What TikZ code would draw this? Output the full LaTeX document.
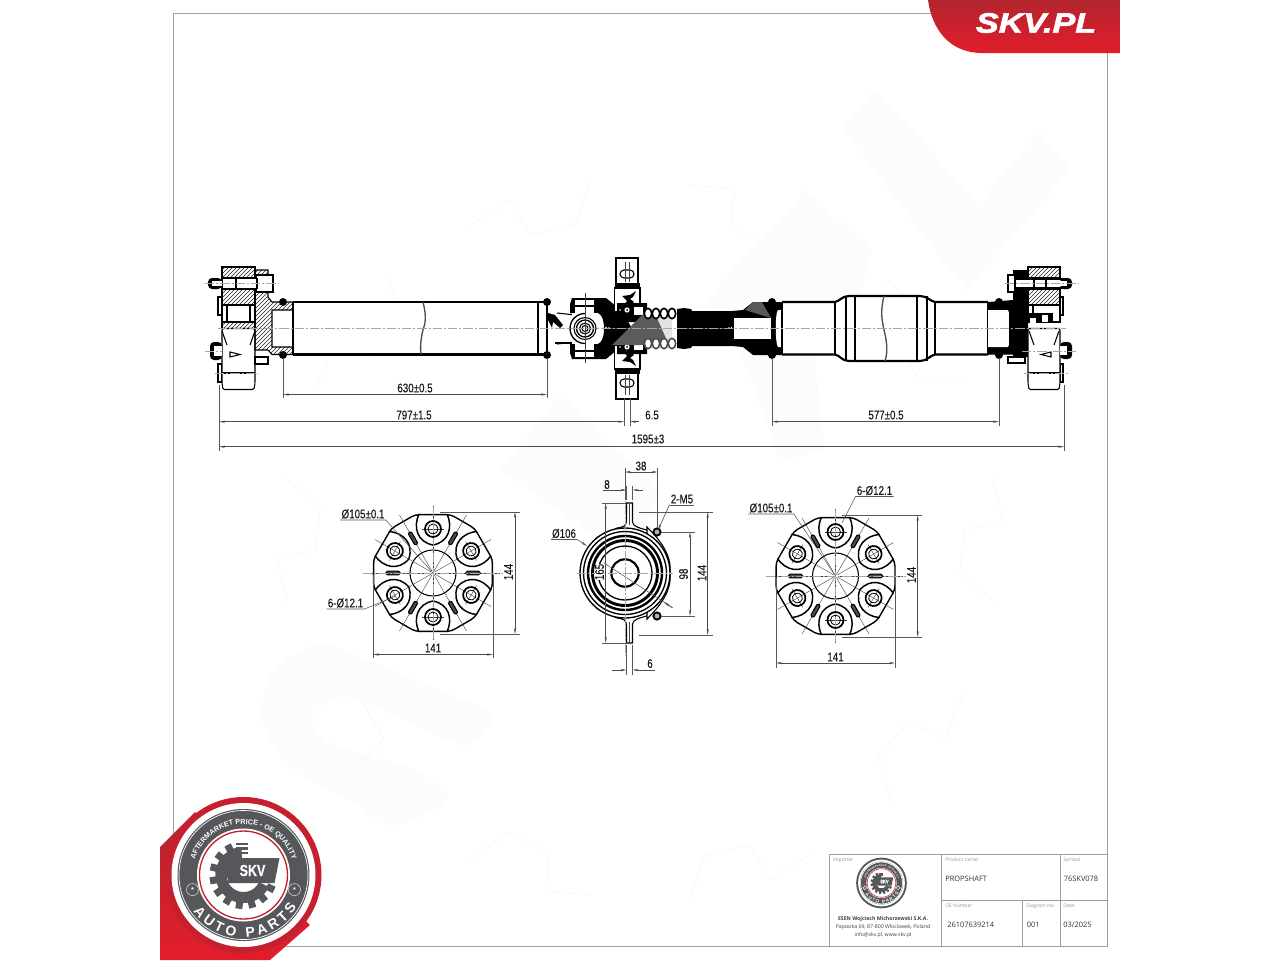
\documentclass[tikz,border=0pt]{standalone}
\usepackage{fontspec}
\usepackage{tikz}
\usetikzlibrary{arrows.meta, patterns, decorations.text}
\setmainfont{Liberation Sans}
\newfontfamily\dimfont[FakeStretch=0.78, FakeBold=0.25]{Liberation Sans}
\newfontfamily\tabfont{Open Sans}
\newfontfamily\skvfont[FakeStretch=1.22, FakeBold=2.2]{Liberation Sans}
\definecolor{skvred}{HTML}{C6202E}
\definecolor{skvredhi}{HTML}{E31D2B}
\definecolor{skvreddk}{HTML}{B2262F}
\definecolor{skvgray}{HTML}{55575A}
\definecolor{wline}{gray}{0.955}
\tikzset{
    frameline/.style={draw=gray!75, line width=0.5pt},
    outline/.style={draw=black, line width=0.8pt},
    heavy/.style={draw=black, line width=1.6pt},
    hairline/.style={draw=black!75, line width=0.3pt},
    cline/.style={draw=gray!70, line width=0.35pt, dash pattern=on 7pt off 1.5pt on 1.5pt off 1.5pt},
    dimline/.style={draw=black!70, line width=0.45pt, {Stealth[length=4.5pt,width=1.7pt]}-{Stealth[length=4.5pt,width=1.7pt]}},
    outarrow/.style={draw=black!70, line width=0.45pt, -{Stealth[length=4.5pt,width=1.7pt]}},
    extline/.style={draw=black!65, line width=0.4pt},
    dimtext/.style={font=\dimfont\fontsize{9.4}{10}\selectfont, text=black!90, inner sep=0.8pt},
    smallcap/.style={font=\tabfont\fontsize{3.7}{4}\selectfont, text=gray!85, anchor=west, inner sep=0pt},
    cellvalue/.style={font=\tabfont\fontsize{5.6}{6}\selectfont, text=black!80, anchor=west, inner sep=0pt},
    importer/.style={font=\tabfont\fontsize{3.9}{5}\selectfont, text=black!75, inner sep=0pt},
    hatched/.style={outline, pattern=north east lines, pattern color=black!85},
    watermark/.style={pattern=crosshatch dots, pattern color=gray!22},
    coupling/.pic={
        \draw[outline, line width=1.05pt, fill=white, rounded corners=3pt]
            (13:61) -- (47:61) -- (73:61) -- (107:61) -- (133:61) -- (167:61) -- (193:61)
            -- (227:61) -- (253:61) -- (287:61) -- (313:61) -- (347:61) -- cycle;
        \foreach \a in {30,90,...,330} {
            \begin{scope}[rotate=\a]
                \draw[outline, line width=1.1pt] (59,14) .. controls (46,20) and (31,16) .. (28,0)
                    .. controls (31,-16) and (46,-20) .. (59,-14);
                \draw[hairline] (24,0) -- (67,0);
                \draw[hairline] (44,-11) -- (44,11);
                \draw[outline, line width=1.3pt] (44,0) circle (8);
                \draw[outline, line width=0.6pt] (44,0) circle (5);
            \end{scope}
        }
        \foreach \a in {0,60,...,300} {
            \begin{scope}[rotate=\a]
                \draw[hairline] (23,0) -- (67,0);
                \draw[outline, fill=black!70, rounded corners=1pt] (33,-1.8) rectangle (47,1.8);
            \end{scope}
        }
        \draw[outline, fill=white] (0,0) circle (23);
        \foreach \a in {0,30,...,330} {
            \draw[hairline] (\a:2) -- (\a:23);
        }
        \draw[cline] (-70,0) -- (70,0);
        \draw[cline] (0,-66) -- (0,66);
    }
}
\newcommand{\dimH}[4]{
    \coordinate (#1a) at (#2,#4);
    \coordinate (#1b) at (#3,#4);
    \draw[dimline] (#1a) -- (#1b);
}
\newcommand{\dimV}[4]{
    \coordinate (#1a) at (#4,#2);
    \coordinate (#1b) at (#4,#3);
    \draw[dimline] (#1a) -- (#1b);
}
\newcommand{\dimOut}[6]{
    \coordinate (#1a) at (#2,#6);
    \coordinate (#1b) at (#3,#6);
    \coordinate (#1c) at (#4,#6);
    \coordinate (#1d) at (#5,#6);
    \draw[outarrow] (#1a) -- (#1b);
    \draw[outarrow] (#1d) -- (#1c);
}
\newcommand{\ringfontbig}{\bfseries\fontsize{5.4}{6}\selectfont}
\newcommand{\ringfontsmall}{\bfseries\fontsize{1.8}{2}\selectfont}
\newcommand{\partsfontbig}{\bfseries\fontsize{10.5}{11}\selectfont}
\newcommand{\partsfontsmall}{\bfseries\fontsize{3.4}{4}\selectfont}
\newcommand{\skvbadge}[9]{
    \begin{scope}[shift={(#2,#3)}, x=#4*0.75pt, y=#4*0.75pt]
        \fill[#5] (0,0) circle (78);
        \fill[white] (0,0) circle (72);
        \fill[skvgray] (0,0) circle (66);
        \draw[white, line width=0.5pt] (0,0) circle (64.5);
        \fill[white] (0,0) circle (46.5);
        \draw[skvred, line width=#9] (0,0) circle (44);
        \path[decorate, decoration={text along path, text color=white, text align=center,
            text={|#6|AFTERMARKET PRICE - OE QUALITY}}] (176:51) arc (176:4:51);
        \path[decorate, decoration={text along path, text color=white, text align={fit to path},
            text={|#7|AUTO PARTS}}] (216:62) arc (216:329:62);
        \node[draw=white, circle, line width=0.3pt, minimum size=#4*9pt, inner sep=0pt, text=white, font=#6] (#1starl) at (196:53) {*};
        \node[draw=white, circle, line width=0.3pt, minimum size=#4*9pt, inner sep=0pt, text=white, font=#6] (#1starr) at (-16:53) {*};
        \fill[skvgray] (95:28) arc (95:335:28) -- (335:17) arc (335:95:17) -- cycle;
        \fill[skvgray] (0,0) -- (95:28) arc (95:190:28) -- cycle;
        \foreach \t in {118,142,...,334} {
            \fill[skvgray, rotate=\t] (26,-3.5) rectangle (34,3.5);
        }
        \foreach \y in {22,26.5,31} {
            \fill[skvgray] (-8,\y-1.3) rectangle (4,\y+1.3);
        }
        \fill[skvgray] (-16,17) -- (36,17) -- (31,-8) -- (-16,-8) -- cycle;
        \node[text=white, font=\dimfont\bfseries#8, inner sep=0pt] (#1skv) at (9,4.5) {SKV};
    \end{scope}
}
\newcommand{\bearinghalf}{
    \draw[outline, fill=white] (616,258) rectangle (638,285);
    \draw[outline, fill=white, rounded corners=3pt] (620,270) rectangle (634,278);
    \draw[hairline] (625,262) -- (625,282);
    \draw[hairline] (629,262) -- (629,282);
    \fill[black] (615,283) rectangle (640,290);
    \draw[outline, fill=white] (614.5,288) rectangle (640,312);
    \fill[black] (622,296) -- (630,295) -- (636,291) -- (633,297) -- (630,299) -- (634,302) -- (628,306) -- (623,306) -- (627,301) -- cycle;
    \fill[black] (617,303) -- (647,303) -- (647,313) -- (640,322) -- (617,322) -- cycle;
    \fill[white] (634,307) rectangle (643,315);
    \fill[white] (627,310) circle (2.6);
    \fill[black] (627,310) circle (1);
    \fill[white] (620,310) circle (0.8);
}
\newcommand{\yokehalf}{
    \fill[black] (570,298) -- (606,298) -- (622,311) -- (632,328.5) -- (604,328.5)
        .. controls (604,320) and (602,315) .. (598,313) -- (570,313) -- (570,304) -- (572,298) -- cycle;
    \fill[white] (575,300) rectangle (594,313);
    \draw[outline] (575,306) -- (594,306);
    \draw[outline] (557,313) -- (575,315);
}
\newcommand{\shafthalf}{
    \fill[white] (643,316) rectangle (678,329);
    \fill[black] (677,309) -- (684,308) -- (691,309) -- (692,311) -- (732,311) -- (743,310) -- (753,302) -- (782,302) -- (782,328.5) -- (677,328.5) -- cycle;
}
\newcommand{\bellowsloops}[1]{
    \foreach \x in {648,656,664,672} {
        \draw[line width=1.2pt, draw=#1, fill=white] (\x,313.5) ellipse (3.7 and 5.2);
    }
}
\begin{document}
\begin{tikzpicture}[x=0.75pt, y=-0.75pt]
    \useasboundingbox (0,0) rectangle (1280,960);
    % watermark
    \fill[watermark] (841,127) -- (876,88) -- (978,205) -- (1039,131) -- (1072,168) -- (966,290) -- cycle;
    \fill[watermark] (706,300) -- (806,190) -- (872,250) -- (850,330) -- (815,360) -- (825,450) -- (780,460) -- (740,350) -- cycle;
    \fill[watermark] (500,470) -- (560,395) -- (660,490) -- (630,560) -- cycle;
    \fill[watermark, rounded corners=12pt] (320,640) -- (500,715) -- (470,750) -- (340,690) -- (305,720) -- (330,745) -- (420,770) -- (455,800) -- (390,830) -- (350,800) -- (290,770) -- (258,720) -- (270,670) -- cycle;
    \foreach \a in {0,36,...,324} {
        \draw[wline, line width=0.4pt, rotate around={\a:(640,540)}] (590,180) -- (575,225) -- (530,235) -- (510,200) -- (470,225);
    }
    % frame and title block
    \draw[frameline] (173,13) rectangle (1107,946);
    \draw[frameline] (829,854) rectangle (1107,946);
    \draw[frameline] (941.5,854) -- (941.5,946);
    \draw[frameline] (1060,854) -- (1060,946);
    \draw[frameline] (941.5,900) -- (1107,900);
    \draw[frameline] (1022.5,900) -- (1022.5,946);
    % left flange
    \draw[outline, fill=white] (218,297) rectangle (222,315);
    \draw[outline, fill=white] (218,364) rectangle (222,382);
    \draw[outline, fill=white] (222,305) rectangle (255,322);
    \draw[outline] (227,305) -- (227,322);
    \draw[outline] (250,305) -- (250,322);
    \draw[hatched] (222,322) rectangle (255,328.5);
    \draw[outline, fill=white, rounded corners=1pt] (222,328.5) -- (255,328.5) -- (255,383) -- (254,389.5) -- (223,389.5) -- (222,383) -- cycle;
    \draw[outline] (222,373) -- (255,373);
    \draw[outline] (222,331) -- (227,345);
    \draw[outline] (255,331) -- (250,345);
    \draw[outline, fill=white] (230,352) -- (240,354.5) -- (230,357) -- cycle;
    \draw[hatched] (222,267) rectangle (255,278);
    \draw[hatched] (222,289) rectangle (255,305);
    \draw[hatched] (255,270) -- (268,270) -- (268,297) -- (272,302) -- (293,302) -- (293,310) -- (272,310) -- (272,347) -- (293,347) -- (293,354.5) -- (272,354.5) -- (268,350) -- (255,350) -- cycle;
    \draw[outline, fill=white] (255,357) rectangle (268,364);
    \draw[outline, fill=white] (256,275) rectangle (273,292);
    \draw[outline, fill=white] (222,278.5) rectangle (257,288.5);
    \draw[outline] (236,278.5) -- (236,288.5);
    \fill[black, rounded corners=3pt] (208,278) rectangle (222,289);
    \fill[white] (212,281) rectangle (222,286);
    \fill[black, rounded corners=3pt] (210,342) rectangle (222,360);
    \fill[white] (214,346) rectangle (222,356);
    \fill[black] (283,302) circle (4);
    \fill[black] (283,355) circle (4);
    % left tube
    \fill[white] (293,302) rectangle (547,354.5);
    \draw[heavy] (293,302) -- (547,302);
    \draw[heavy] (293,354.5) -- (547,354.5);
    \draw[outline] (293,302) -- (293,354.5);
    \draw[outline] (538,302) -- (538,354.5);
    \draw[heavy] (547,302) -- (547,354.5);
    \draw[outline, line width=1pt, draw=black!70] (423,302) .. controls (427,318) and (425,324) .. (423,330) .. controls (421,338) and (420,346) .. (421,354.5);
    \fill[black] (547,302) circle (4);
    \fill[black] (547,355) circle (4);
    \fill[black] (548,313) -- (555,315) -- (563,325) -- (560,328) -- (553,322) -- (552,328) -- (548,320) -- cycle;
    % universal joint
    \draw[outline] (555,343) -- (575,343);
    \yokehalf
    \begin{scope}[shift={(0,657)}, yscale=-1]
        \yokehalf
    \end{scope}
    \fill[white] (572,313) rectangle (598,344);
    \draw[outline, fill=white] (585,328.5) circle (11);
    \draw[outline, line width=1pt] (585,328.5) circle (8.5);
    \draw[outline] (585,328.5) circle (5.5);
    \draw[outline, fill=white] (585,328.5) circle (3);
    \draw[outline, line width=1pt] (585,313.5) arc (-90:-270:15);
    \fill[white] (606,327.5) circle (0.8);
    \fill[white] (609,327.5) circle (0.7);
    \draw[hairline] (585,293) -- (585,363);
    % bellows and centre bearing
    \shafthalf
    \bearinghalf
    \begin{scope}[shift={(0,657)}, yscale=-1]
        \shafthalf
        \bearinghalf
    \end{scope}
    \fill[white] (734,318) rectangle (771,339);
    \fill[white] (782,310) -- (778,310) .. controls (775,312) and (775,344) .. (778,347) -- (782,347) -- cycle;
    \fill[white] (729,327.5) circle (0.7);
    \fill[white] (731.5,327.5) circle (0.7);
    \fill[gray!22] (642,318) -- (672,318) -- (672,339) -- (642,339) -- cycle;
    \fill[gray!72!black] (612,345) -- (645,312) -- (657,318) -- (668,343) -- (640,345) -- cycle;
    \bellowsloops{black}
    \begin{scope}[shift={(0,657)}, yscale=-1]
        \bellowsloops{gray!60!black}
    \end{scope}
    \fill[gray!70!black] (753,302) -- (762,302) -- (771,318) -- (745,310) -- cycle;
    \fill[black] (772,302) circle (4);
    \fill[black] (772,355) circle (4);
    % right tube
    \fill[white] (782,302) -- (835,302) -- (847,296) -- (922,296) -- (935,302) -- (988,302) -- (988,354.5) -- (935,354.5) -- (922,361) -- (847,361) -- (835,354.5) -- (782,354.5) -- cycle;
    \draw[heavy] (782,302) -- (835,302) .. controls (840,301) and (842,296) .. (849,296) -- (920,296) .. controls (927,296) and (930,301) .. (935,302) -- (988,302);
    \draw[heavy] (782,354.5) -- (835,354.5) .. controls (840,355.5) and (842,361) .. (849,361) -- (920,361) .. controls (927,361) and (930,355.5) .. (935,354.5) -- (988,354.5);
    \foreach \x in {782,835,935,988} {
        \draw[outline] (\x,302) -- (\x,354.5);
    }
    \foreach \x in {846,855,917,927} {
        \draw[outline] (\x,296) -- (\x,361);
    }
    \draw[outline, line width=1pt, draw=black!70] (884,296) .. controls (880,312) and (882,320) .. (884,330) .. controls (887,342) and (888,352) .. (885,361);
    % right flange
    \fill[black] (988,302) -- (1013,300) -- (1013,270) -- (1028,270) -- (1028,357) -- (1013,357) -- (1013,354.5) -- (988,354.5) -- cycle;
    \fill[white] (988,310) -- (1008,310) .. controls (1012,318) and (1012,340) .. (1008,347) -- (988,347) -- cycle;
    \draw[outline] (1010,312) -- (1010,345);
    \fill[black] (999,302) circle (4);
    \fill[black] (999,355) circle (4);
    \draw[outline, fill=white] (1008,357) rectangle (1025,363);
    \draw[outline, fill=white] (1060,297) rectangle (1063,315);
    \draw[outline, fill=white] (1060,364) rectangle (1063,382);
    \draw[outline, fill=white] (1028,305) rectangle (1060,322);
    \draw[outline] (1033,305) -- (1033,322);
    \fill[black] (1029,313) rectangle (1053,322);
    \fill[white] (1030,318) rectangle (1036,328);
    \fill[white] (1042,315) rectangle (1048,322);
    \draw[outline, fill=white, rounded corners=1pt] (1028,328.5) -- (1060,328.5) -- (1060,383) -- (1059,389.5) -- (1029,389.5) -- (1028,383) -- cycle;
    \draw[outline] (1028,373) -- (1060,373);
    \draw[outline] (1029,331) -- (1034,345);
    \draw[outline] (1059,331) -- (1054,345);
    \draw[outline, fill=white] (1051,352) -- (1041,354.5) -- (1051,357) -- cycle;
    \draw[hatched] (1028,267) rectangle (1060,278);
    \draw[hatched] (1028,289) rectangle (1060,305);
    \draw[outline, fill=white] (1008,275) rectangle (1015,292);
    \draw[outline, fill=white] (1015,279) rectangle (1062,288);
    \draw[outline] (1034,279) -- (1034,288);
    \draw[outline] (1046,279) -- (1046,288);
    \fill[black, rounded corners=3pt] (1060,278) rectangle (1072,289);
    \fill[white] (1060,281) rectangle (1067,286);
    \fill[black, rounded corners=3pt] (1060,342) rectangle (1072,359);
    \fill[white] (1060,346) rectangle (1067,355);
    % centre lines
    \draw[cline] (218,328.5) -- (1066,328.5);
    \draw[cline] (205,283.5) -- (279,283.5);
    \draw[cline] (205,351) -- (222,351);
    \draw[cline] (215,373) -- (258,373);
    \draw[cline] (1005,283.5) -- (1078,283.5);
    \draw[cline] (1022,351) -- (1076,351);
    \draw[cline] (1024,373) -- (1068,373);
    % main dimensions
    \draw[extline] (283,358) -- (283,398);
    \draw[extline] (547,358) -- (547,398);
    \draw[extline] (219,385) -- (219,451);
    \draw[extline] (1064,385) -- (1064,451);
    \draw[extline] (624,398) -- (624,426);
    \draw[extline] (630,398) -- (630,426);
    \draw[extline] (772,358) -- (772,426);
    \draw[extline] (999,358) -- (999,426);
    \dimH{dShaft}{283}{547}{394.5}
    \coordinate (dHalfa) at (219,421.7);
    \coordinate (dHalfb) at (624,421.7);
    \draw[dimline] (dHalfa) -- (dHalfb);
    \coordinate (dLugR) at (630,421.7);
    \coordinate (dLugE) at (639,421.7);
    \draw[outarrow] (dLugE) -- (dLugR);
    \dimH{dFront}{772}{999}{421.7}
    \dimH{dTotal}{219}{1064}{446.7}
    \node[dimtext] (tShaft) at (415,388) {630±0.5};
    \node[dimtext] (tHalf) at (414,415) {797±1.5};
    \node[dimtext] (tLug) at (652,415) {6.5};
    \node[dimtext] (tFront) at (886,415) {577±0.5};
    \node[dimtext] (tTotal) at (648,439) {1595±3};
    % couplings
    \pic (cplL) at (433,573) {coupling};
    \pic (cplR) at (835.5,576) {coupling};
    \draw[extline] (440,512) -- (520,512);
    \draw[extline] (440,634) -- (520,634);
    \draw[extline] (373,575) -- (373,658);
    \draw[extline] (493,575) -- (493,658);
    \dimV{dLh}{512}{634}{515}
    \dimH{dLw}{373}{493}{654.5}
    \node[dimtext, rotate=90] (tLh) at (508.5,572) {144};
    \node[dimtext] (tLw) at (433,648) {141};
    \node[dimtext] (tLd) at (363,514) {Ø105±0.1};
    \coordinate (cLd) at (433,573);
    \draw[extline] (tLd.south west) -- (tLd.south east) -- (cLd);
    \node[dimtext] (tLb) at (345.5,603) {6-Ø12.1};
    \coordinate (cLb) at (396,596);
    \draw[extline] (tLb.south west) -- (tLb.south east) -- (cLb);
    \draw[extline] (842,515) -- (922,515);
    \draw[extline] (842,637) -- (922,637);
    \draw[extline] (776,578) -- (776,668);
    \draw[extline] (895,578) -- (895,668);
    \dimV{dRh}{515}{637}{917.7}
    \dimH{dRw}{776}{895}{663}
    \node[dimtext, rotate=90] (tRh) at (911.5,575) {144};
    \node[dimtext] (tRw) at (835.5,657) {141};
    \node[dimtext] (tRd) at (771,508) {Ø105±0.1};
    \coordinate (cRd) at (835.5,576);
    \draw[extline] (tRd.south west) -- (tRd.south east) -- (cRd);
    \node[dimtext] (tRb) at (874.5,490.5) {6-Ø12.1};
    \coordinate (cRb) at (842,523);
    \draw[extline] (tRb.south east) -- (tRb.south west) -- (cRb);
    % support bearing
    \draw[outline, fill=white] (626.5,503) -- (632.5,503) -- (632.5,522) .. controls (633,527) and (640,528) .. (650,531) -- (652,537) -- (598,537) -- (617,528) .. controls (624,527) and (626.5,526) .. (626.5,520) -- cycle;
    \draw[outline, fill=white] (626.5,643) -- (632.5,643) -- (632.5,624) .. controls (633,619) and (640,618) .. (650,615) -- (652,609) -- (598,609) -- (617,618) .. controls (624,619) and (626.5,620) .. (626.5,626) -- cycle;
    \draw[outline, fill=white] (647,527) .. controls (660,540) and (672,555) .. (670,573) .. controls (672,591) and (660,606) .. (647,619) -- cycle;
    \draw[outline, line width=1pt, fill=white] (625,573) circle (45);
    \draw[outline, line width=1pt] (625,573) circle (41.5);
    \draw[outline, line width=1.8pt] (625,573) circle (37);
    \draw[outline, line width=2.2pt] (625,573) circle (32.5);
    \draw[outline, line width=1pt] (625,573) circle (27);
    \draw[outline, line width=1.6pt, fill=white] (625,573) circle (13.7);
    \draw[outline, line width=1.4pt, fill=gray!60] (657,532) circle (3.6);
    \draw[outline, line width=1.4pt, fill=gray!60] (657,616) circle (3.6);
    \draw[cline] (577,573) -- (673,573);
    \draw[cline] (625,490) -- (625,656);
    \draw[hairline] (629.5,503) -- (629.5,525);
    \draw[hairline] (629.5,622) -- (629.5,643);
    % bearing dimensions
    \draw[extline] (625,468) -- (625,500);
    \draw[extline] (657.5,468) -- (657.5,528);
    \draw[extline] (626.5,486) -- (626.5,500);
    \draw[extline] (632.5,486) -- (632.5,500);
    \draw[extline] (626.5,645) -- (626.5,675);
    \draw[extline] (632.5,645) -- (632.5,675);
    \draw[extline] (602,503) -- (626,503);
    \draw[extline] (602,643) -- (626,643);
    \draw[extline] (639,512) -- (713,512);
    \draw[extline] (639,635) -- (713,635);
    \draw[extline] (661,532) -- (695,532);
    \draw[extline] (661,616) -- (695,616);
    \dimH{dPitch}{625}{657.5}{472}
    \dimV{dFlange}{503}{643}{605.7}
    \dimV{dHoles}{532}{616}{690}
    \dimV{dOuter}{512}{635}{707.7}
    \dimOut{dLugT}{603}{626.5}{632.5}{643}{490}
    \dimOut{dLugB}{612}{626.5}{632.5}{655}{670}
    \node[dimtext] (tPitch) at (641,466) {38};
    \node[dimtext] (tLugT) at (607,484.5) {8};
    \node[dimtext] (tLugB) at (650,663.5) {6};
    \node[dimtext, rotate=90] (tHoles) at (683.5,574) {98};
    \node[dimtext, rotate=90] (tOuter) at (702,573) {144};
    \node[dimtext, rotate=90, fill=white, inner sep=0pt] (tCent) at (599.5,572) {165};
    \coordinate (cCentA) at (604,563);
    \coordinate (cCentB) at (673,608);
    \draw[extline] (cCentA) -- (cCentB);
    \coordinate (cCentC) at (664,602);
    \coordinate (cCentD) at (672,607.5);
    \draw[outarrow] (cCentD) -- (cCentC);
    \node[dimtext] (tM5) at (682,499) {2-M5};
    \coordinate (cM5) at (658,530);
    \draw[extline] (tM5.south east) -- (tM5.south west);
    \draw[outarrow] (tM5.south west) -- (cM5);
    \node[dimtext] (tBore) at (564,533.5) {Ø106};
    \coordinate (cBore) at (587,546);
    \draw[extline] (tBore.south west) -- (tBore.south east);
    \draw[outarrow] (tBore.south east) -- (cBore);
    % title block text
    \skvbadge{bSmall}{881.5}{883}{0.325}{skvgray}{\ringfontsmall}{\partsfontsmall}{\fontsize{3.9}{4}\selectfont}{0.4pt}
    \node[smallcap] (lImp) at (832.5,860) {Importer};
    \node[smallcap] (lProd) at (945,860) {Product name:};
    \node[smallcap] (lSym) at (1063,860) {Symbol};
    \node[smallcap] (lOe) at (945,906) {OE Number};
    \node[smallcap] (lDiag) at (1026,906) {Diagram No.};
    \node[smallcap] (lDate) at (1063,906) {Date:};
    \node[cellvalue] (vProd) at (945,878.5) {PROPSHAFT};
    \node[cellvalue] (vSym) at (1063.5,878.5) {76SKV078};
    \node[cellvalue] (vOe) at (947,925) {26107639214};
    \node[cellvalue] (vDiag) at (1026.5,925) {001};
    \node[cellvalue] (vDate) at (1063,925) {03/2025};
    \node[importer, font=\tabfont\bfseries\fontsize{3.9}{5}\selectfont] (iName) at (883,919) {ESEN Wojciech Michorzewski S.K.A.};
    \node[importer] (iAddr) at (883,927.5) {Papiezka 69, 87-800 Wloclawek, Poland};
    \node[importer] (iWeb) at (883,935.5) {info@skv.pl, www.skv.pl};
    % red corners
    \shade[top color=skvreddk, bottom color=skvredhi] (928,0) .. controls (932,30) and (950,53) .. (982,53) -- (1120,53) -- (1120,0) -- cycle;
    \node[font=\skvfont\bfseries\itshape\fontsize{21}{22}\selectfont, text=white, inner sep=0pt] (logoTop) at (1036,23) {SKV.PL};
    \shade[top color=skvreddk, bottom color=skvredhi] (160,847) -- (195,812) -- (310,925) -- (270,960) -- (160,960) -- cycle;
    \skvbadge{bBig}{243.5}{875}{1}{skvred}{\ringfontbig}{\partsfontbig}{\fontsize{12}{13}\selectfont}{1pt}
\end{tikzpicture}
\end{document}
